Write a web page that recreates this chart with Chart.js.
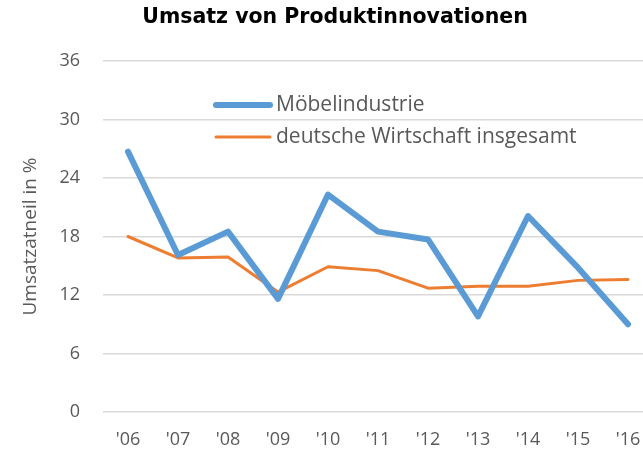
<!DOCTYPE html>
<html>
<head>
<meta charset="utf-8">
<script src="https://cdn.jsdelivr.net/npm/chart.js@4"></script>
<style>
  html, body { margin: 0; padding: 0; background: #fff; overflow: hidden; }
  #wrap { width: 643px; height: 454px; }
</style>
</head>
<body>
<div id="wrap"><canvas id="c" width="643" height="454"></canvas></div>
<script>
// Daten
const TITEL = 'Umsatz von Produktinnovationen';
const JAHRE = ["'06", "'07", "'08", "'09", "'10", "'11", "'12", "'13", "'14", "'15", "'16"];
const MOEBEL = [26.7, 16.1, 18.5, 11.6, 22.3, 18.5, 17.7, 9.8, 20.1, 14.8, 9.0];
const GESAMT = [18.0, 15.8, 15.9, 12.3, 14.9, 14.5, 12.7, 12.9, 12.9, 13.5, 13.6];
const Y_TICKS = [0, 6, 12, 18, 24, 30, 36];

const GRAU = '#595959';
const FONT = "'Open Sans', 'Noto Sans', sans-serif";

// Titel (etwas rechts von der Mitte, wie im Original)
const titelPlugin = {
  id: 'titelPlugin',
  afterDraw(chart) {
    const ctx = chart.ctx;
    ctx.save();
    ctx.fillStyle = '#000';
    ctx.font = "bold 20.5px 'DejaVu Sans', sans-serif";
    ctx.textAlign = 'center';
    ctx.textBaseline = 'middle';
    ctx.fillText(TITEL, 335, 18);
    ctx.restore();
  }
};

// Legende innerhalb der Zeichenfläche
const innenLegende = {
  id: 'innenLegende',
  afterDatasetsDraw(chart) {
    const ctx = chart.ctx;
    const x0 = 216, x1 = 270, tx = 276;
    const ys = [105, 137];
    chart.data.datasets.forEach((ds, i) => {
      ctx.save();
      ctx.strokeStyle = ds.borderColor;
      ctx.lineWidth = ds.borderWidth;
      ctx.lineCap = 'round';
      ctx.beginPath();
      ctx.moveTo(x0, ys[i]);
      ctx.lineTo(x1, ys[i]);
      ctx.stroke();
      ctx.fillStyle = GRAU;
      ctx.font = '21px ' + FONT;
      ctx.textBaseline = 'middle';
      ctx.fillText(ds.label, tx, ys[i]);
      ctx.restore();
    });
  }
};

const toXY = arr => arr.map((v, i) => ({ x: i, y: v }));

new Chart(document.getElementById('c'), {
  type: 'line',
  data: {
    datasets: [
      {
        label: 'Möbelindustrie',
        data: toXY(MOEBEL),
        borderColor: '#5b9bd5',
        borderWidth: 6,
        borderJoinStyle: 'round',
        borderCapStyle: 'round',
        pointRadius: 0,
        tension: 0
      },
      {
        label: 'deutsche Wirtschaft insgesamt',
        data: toXY(GESAMT),
        borderColor: '#ed7d31',
        borderWidth: 3,
        borderJoinStyle: 'round',
        borderCapStyle: 'round',
        pointRadius: 0,
        tension: 0
      }
    ]
  },
  options: {
    responsive: false,
    animation: false,
    layout: { padding: { top: 61, left: 0, right: 0, bottom: 0 } },
    plugins: {
      legend: { display: false },
      tooltip: { enabled: false },
      title: { display: false }
    },
    scales: {
      x: {
        type: 'linear',
        min: -0.5,
        max: 10.3,
        grid: { display: false, drawTicks: false },
        border: { display: false },
        afterBuildTicks: s => { s.ticks = JAHRE.map((_, i) => ({ value: i })); },
        afterFit: s => { s.height = 42; s.paddingLeft = 0; s.paddingRight = 0; },
        ticks: {
          color: GRAU,
          font: { family: FONT, size: 18 },
          padding: 17,
          maxRotation: 0,
          autoSkip: false,
          callback: v => JAHRE[v]
        }
      },
      y: {
        min: 0,
        max: 36,
        afterBuildTicks: s => { s.ticks = Y_TICKS.map(v => ({ value: v })); },
        afterFit: s => { s.width = 103; s.paddingTop = 0; s.paddingBottom = 0; },
        grid: { color: '#d9d9d9', lineWidth: 1.5, drawTicks: false },
        border: { display: false },
        ticks: {
          color: GRAU,
          font: { family: FONT, size: 18 },
          padding: 23
        },
        title: {
          display: true,
          text: 'Umsatzatneil in %',
          color: GRAU,
          font: { family: FONT, size: 19 },
          padding: { top: 19, bottom: 0 }
        }
      }
    }
  },
  plugins: [innenLegende, titelPlugin]
});
</script>
</body>
</html>
